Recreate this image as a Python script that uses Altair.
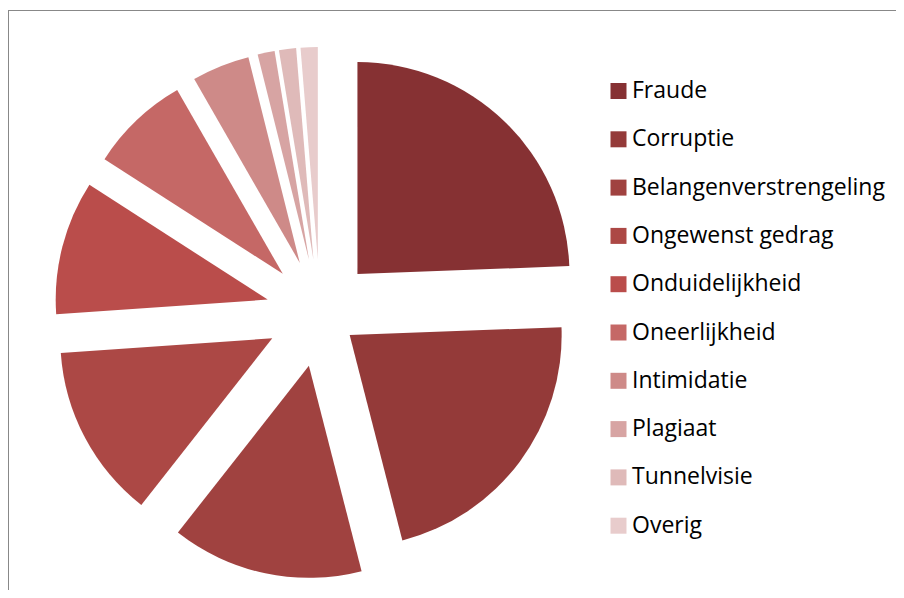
import altair as alt
import pandas as pd

# ---- data (percent share of each category, clockwise from 12 o'clock) ----
categories = [
    "Fraude", "Corruptie", "Belangenverstrengeling", "Ongewenst gedrag",
    "Onduidelijkheid", "Oneerlijkheid", "Intimidatie", "Plagiaat",
    "Tunnelvisie", "Overig",
]
values = [24.4, 21.6, 14.6, 13.3, 10.2, 7.6, 4.4, 1.3, 1.3, 1.3]

# ---- style ----
colors = [
    "#863133", "#943a39", "#a04240", "#ac4845", "#ba4d4b",
    "#c56866", "#ce8a88", "#d7a4a3", "#dfbab9", "#e8cccc",
]
W, H = 888, 582
CX, CY = 312, 305          # pie centre inside the view
R = 212                    # pie radius
EXPLODE_DEFAULT = 54
EXPLODE_CORRUPTIE = 37
FONT = "Open Sans"

df = pd.DataFrame({"category": categories, "value": values,
                   "order": list(range(len(categories)))})

pie = (
    alt.Chart(df)
    .transform_joinaggregate(total="sum(value)")
    .transform_window(cum="sum(value)", sort=[alt.SortField("order")], frame=[None, 0])
    .transform_calculate(
        t1="2*PI*datum.cum/datum.total",
        t0="2*PI*(datum.cum-datum.value)/datum.total",
    )
    .transform_calculate(
        ex=f"datum.category == 'Corruptie' ? {EXPLODE_CORRUPTIE} : {EXPLODE_DEFAULT}",
        mid="(datum.t0+datum.t1)/2",
    )
    .transform_calculate(
        cx=f"{CX} + datum.ex*sin(datum.mid)",
        cy=f"{CY} - datum.ex*cos(datum.mid)",
    )
    .mark_arc(radius=R, strokeWidth=0)
    .encode(
        theta=alt.Theta("t0:Q", scale=None, stack=None),
        theta2="t1:Q",
        x=alt.X("cx:Q", scale=None, axis=None),
        y=alt.Y("cy:Q", scale=None, axis=None),
        color=alt.Color(
            "category:N",
            sort=categories,
            scale=alt.Scale(domain=categories, range=colors),
            legend=alt.Legend(
                title=None, orient="none", legendX=599, legendY=71.5,
                direction="vertical", symbolType="square", symbolSize=256,
                symbolStrokeWidth=0, symbolOpacity=1, labelFont=FONT,
                labelFontSize=23, labelColor="#000000", labelOffset=2,
                labelLimit=0, rowPadding=24.3, padding=0,
            ),
        ),
        order=alt.Order("order:Q"),
    )
)

frame_df = pd.DataFrame({"a": [0]})
top_line = alt.Chart(frame_df).mark_rule(color="#888888", strokeWidth=1).encode(
    x=alt.value(0), x2=alt.value(W), y=alt.value(2.5), y2=alt.value(2.5)
)
left_line = alt.Chart(frame_df).mark_rule(color="#888888", strokeWidth=1).encode(
    x=alt.value(0.5), x2=alt.value(0.5), y=alt.value(2), y2=alt.value(H)
)

chart = (
    alt.layer(pie, top_line, left_line)
    .properties(width=W, height=H, padding=0, autosize=alt.AutoSizeParams(type="none"))
    .configure_view(stroke=None)
)

chart.save("out.html", embed_options={"renderer": "svg", "actions": False})
